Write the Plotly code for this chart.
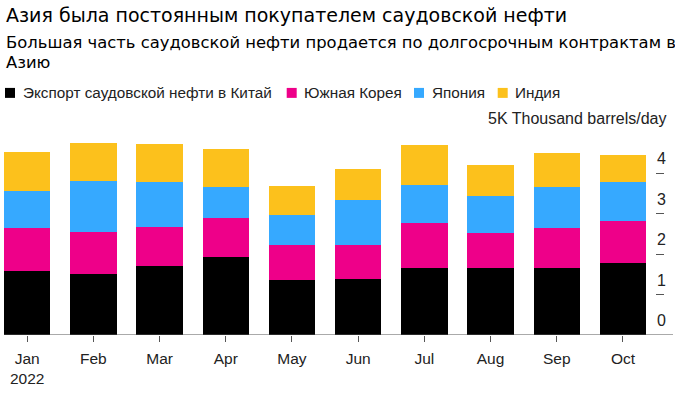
import plotly.graph_objects as go

months = ["Jan", "Feb", "Mar", "Apr", "May", "Jun", "Jul", "Aug", "Sep", "Oct"]
month_labels = ["Jan<br>2022", "Feb", "Mar", "Apr", "May", "Jun", "Jul", "Aug", "Sep", "Oct"]

china = [1.58, 1.52, 1.70, 1.92, 1.37, 1.38, 1.66, 1.66, 1.66, 1.77]
korea = [1.06, 1.02, 0.97, 0.97, 0.86, 0.84, 1.11, 0.87, 0.99, 1.05]
japan = [0.92, 1.27, 1.12, 0.77, 0.74, 1.11, 0.95, 0.90, 1.01, 0.97]
india = [0.98, 0.95, 0.94, 0.94, 0.73, 0.77, 0.98, 0.79, 0.84, 0.67]

series_names = ["Экспорт саудовской нефти в Китай", "Южная Корея", "Япония", "Индия"]
colors = ["#000000", "#EE0089", "#36A9FF", "#FCC11C"]

y_ticks = [0, 1, 2, 3, 4, 5]
y_tick_text = ["0", "1", "2", "3", "4", "5K Thousand barrels/day"]

title = "Азия была постоянным покупателем саудовской нефти"
subtitle_lines = ["Большая часть саудовской нефти продается по долгосрочным контрактам в", "Азию"]

# ---- layout (pixels) ----
W, H = 675, 397
ML, MR = 4, 11
PLOT_TOP, PLOT_BOTTOM = 132.5, 335
plot_w = W - ML - MR
plot_h = PLOT_BOTTOM - PLOT_TOP
FONT = "Liberation Sans, Arial, sans-serif"
FONT_TITLE = "DejaVu Sans, sans-serif"
legend_square_x = [5, 286.7, 414, 497.7]
LEG_Y, LEG_SQ = 92.3, 10


def py(ypx):
    return (PLOT_BOTTOM - ypx) / plot_h


def px(xpx):
    return (xpx - ML) / plot_w


fig = go.Figure()
for name, vals, col in zip(series_names, [china, korea, japan, india], colors):
    fig.add_trace(go.Bar(x=list(range(len(months))), y=vals, name=name,
                         marker=dict(color=col, line=dict(width=0)), width=0.7,
                         showlegend=False))

annotations = [
    dict(text=title, xref="paper", yref="paper", x=px(4), y=py(14.5), xanchor="left",
         yanchor="middle", showarrow=False, font=dict(size=19, color="#000", family=FONT_TITLE)),
]
for i, line in enumerate(subtitle_lines):
    annotations.append(dict(text=line, xref="paper", yref="paper", x=px(4), y=py(41.5 + 20.7 * i),
                            xanchor="left", yanchor="middle", showarrow=False,
                            font=dict(size=16.4, color="#000", family=FONT_TITLE)))
shapes = []
for name, col, sx in zip(series_names, colors, legend_square_x):
    shapes.append(dict(type="rect", xref="paper", yref="paper",
                       x0=px(sx), x1=px(sx + LEG_SQ),
                       y0=py(LEG_Y + LEG_SQ / 2), y1=py(LEG_Y - LEG_SQ / 2),
                       fillcolor=col, line=dict(width=0)))
    annotations.append(dict(text=name, xref="paper", yref="paper", x=px(sx + 15.5),
                            y=py(LEG_Y), xanchor="left", yanchor="middle", showarrow=False,
                            font=dict(size=15.3, color="#222", family=FONT)))
for v, t in zip(y_ticks, y_tick_text):
    annotations.append(dict(text=t, xref="paper", yref="y", x=px(667.5), y=v, xanchor="right",
                            yanchor="middle", yshift=14.5, showarrow=False,
                            font=dict(size=16, color="#222", family=FONT)))
shapes.append(dict(type="line", xref="paper", yref="y", x0=0, x1=px(673), y0=0, y1=0,
                   line=dict(color="#555", width=1), layer="above"))

fig.update_layout(
    width=W, height=H,
    margin=dict(l=ML, r=MR, t=PLOT_TOP, b=H - PLOT_BOTTOM, pad=0),
    barmode="stack",
    plot_bgcolor="white", paper_bgcolor="white",
    font=dict(family=FONT, size=15, color="#222"),
    showlegend=False,
    xaxis=dict(range=[-0.35, -0.35 + plot_w / 66.2], tickmode="array",
               tickvals=list(range(len(months))), ticktext=month_labels,
               ticks="outside", ticklen=6, tickcolor="#555", tickwidth=1,
               ticklabelstandoff=3,
               showline=False, showgrid=False, zeroline=False,
               tickfont=dict(size=15.5, color="#222", family=FONT), fixedrange=True),
    yaxis=dict(range=[0, 5], side="right", tickmode="array", tickvals=y_ticks,
               ticks="inside", ticklen=8, tickcolor="#555", tickwidth=1,
               showticklabels=False, showgrid=False, zeroline=False, showline=False,
               fixedrange=True),
    annotations=annotations,
    shapes=shapes,
)

fig.write_html("out.html", config={"displayModeBar": False},
               post_script="document.body.style.margin='0';document.body.style.overflow='hidden';")
